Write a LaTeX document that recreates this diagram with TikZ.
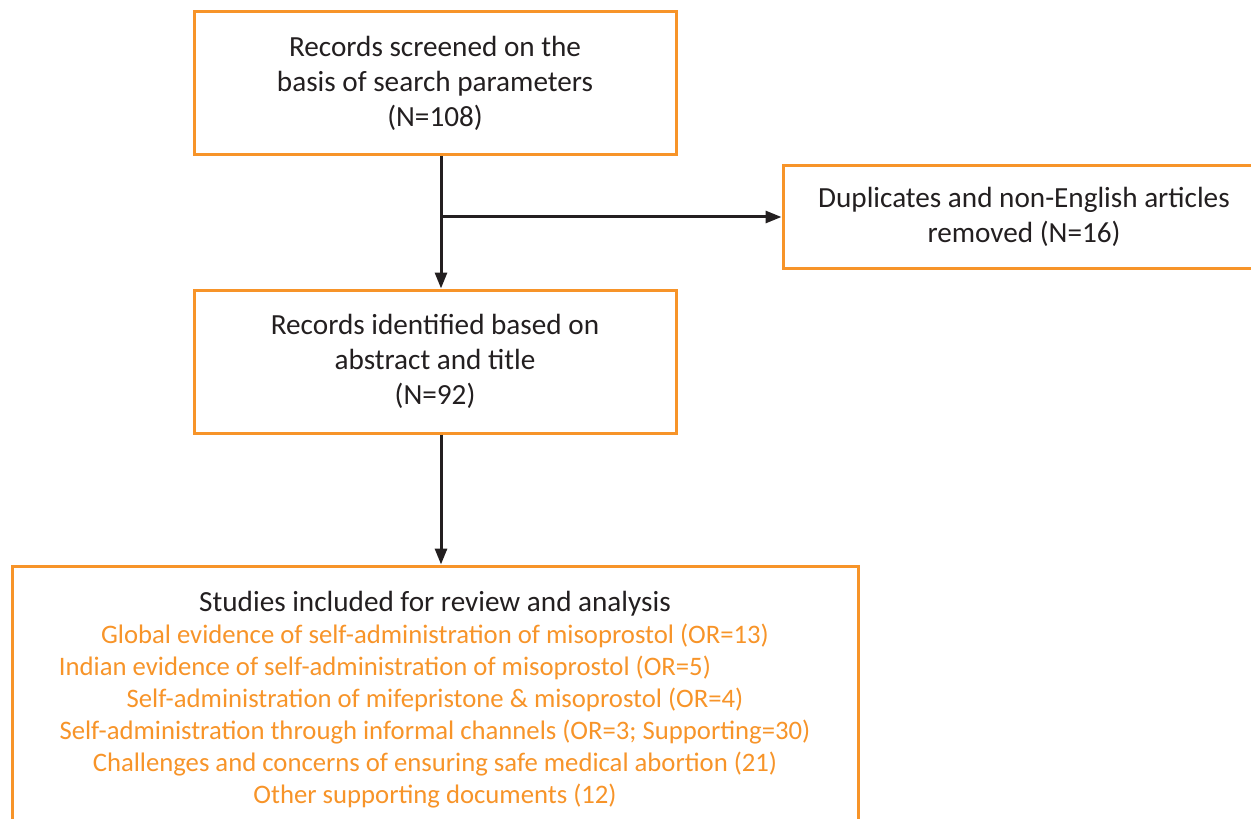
\documentclass[tikz,border=0pt]{standalone}
\usepackage{fontspec}
\setmainfont{Carlito}
\usepackage{xcolor}
\usetikzlibrary{arrows.meta,positioning,calc}
\definecolor{floworange}{RGB}{247,148,41}
\definecolor{flowdark}{RGB}{35,31,32}
\begin{document}
\begin{tikzpicture}[
x=0.5pt, y=-0.5pt,
font=\fontsize{14.6}{17.5}\selectfont,
stage/.style={draw=floworange, line width=1.5pt, align=center, text=flowdark, inner sep=0pt},
mainbox/.style={stage, minimum width=241pt, minimum height=71.5pt},
sidebox/.style={stage, minimum width=241pt, minimum height=51pt},
finalbox/.style={stage, minimum width=423pt, minimum height=134pt, font=\fontsize{13.35}{16}\selectfont},
arr/.style={-{Triangle[length=8pt, width=6pt]}, line width=1.5pt, draw=flowdark}
]
\useasboundingbox (0,0) rectangle (1251,818);
\clip (0,0) rectangle (1251,818);

% Boxes
\node[mainbox] (screened) at (435,83.5) {Records screened on the\\basis of search parameters\\(N=108)};
\node[sidebox] (removed) at (1024,217) {Duplicates and non-English articles\\removed (N=16)};
\node[mainbox] (identified) at (435,361.5) {Records identified based on\\abstract and title\\(N=92)};
\node[finalbox] (included) at (435,700) {{\fontsize{14.6}{16}\selectfont Studies included for review and analysis}\\
\textcolor{floworange}{Global evidence of self-administration of misoprostol (OR=13)}\\
\textcolor{floworange}{\mbox{Indian evidence of self-administration of misoprostol (OR=5)\hspace{50pt}}}\\
\textcolor{floworange}{Self-administration of mifepristone \& misoprostol (OR=4)}\\
\textcolor{floworange}{Self-administration through informal channels (OR=3; Supporting=30)}\\
\textcolor{floworange}{Challenges and concerns of ensuring safe medical abortion (21)}\\
\textcolor{floworange}{Other supporting documents (12)}};

% Connectors
\coordinate (split) at (441,217);
\draw[line width=1.5pt, draw=flowdark] (screened.south -| split) -- (split);
\draw[arr] (split) -- (identified.north -| split);
\draw[arr] (split) -- (removed.west);
\draw[arr] (identified.south -| split) -- (included.north -| split);

\end{tikzpicture}
\end{document}
